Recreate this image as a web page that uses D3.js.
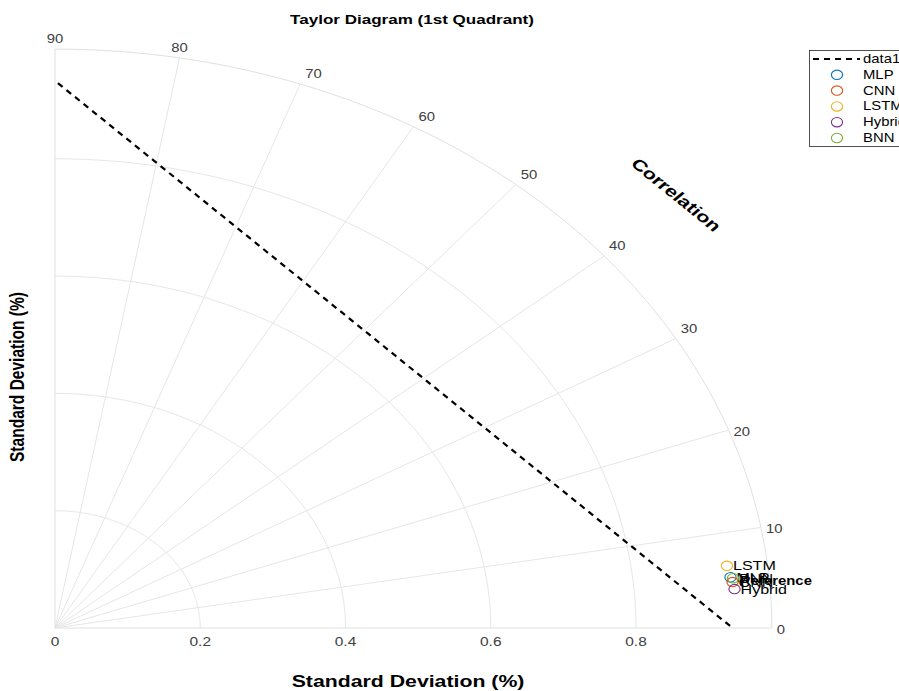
<!DOCTYPE html>
<html>
<head>
<meta charset="utf-8">
<script src="https://cdn.jsdelivr.net/npm/d3@7"></script>
<style>
  html, body { margin: 0; padding: 0; background: #fff; }
  svg { display: block; font-family: "Liberation Sans", Arial, Helvetica, sans-serif; }
</style>
</head>
<body>
<svg id="chart" width="899" height="691"></svg>
<script>
// ---- data ----
const models = ["MLP", "CNN", "LSTM", "Hybrid", "BNN"];
const stdDev = [0.9341, 0.9362, 0.9313, 0.9380, 0.9375];
const correlation = [0.9957, 0.9965, 0.9935, 0.9975, 0.9959];
const modelColors = ["#0072BD", "#D95319", "#EDB120", "#7E2F8E", "#77AC30"];
const refStd = 0.9385;
const refCorr = 0.9963;
const data1X = [0.004, 0.933];
const data1Y = [0.929, 0.0];
const stdTicks = [0, 0.2, 0.4, 0.6, 0.8];
const stdTickLabels = ["0", "0.2", "0.4", "0.6", "0.8"];
const gridRadii = [0.2, 0.4, 0.6, 0.8];
const angleTicks = [0, 10, 20, 30, 40, 50, 60, 70, 80, 90];
const rMax = 0.987;

// ---- layout ----
const SX = 1.238; // horizontal stretch of the figure
const svg = d3.select("#chart");
const x = d3.scaleLinear().domain([0, 0.8]).range([55, 636]);
const y = d3.scaleLinear().domain([0, 0.8]).range([628, 628 - 0.8 * 586.5]);
const rad = d => d * Math.PI / 180;
const px = (r, deg) => x(r * Math.cos(rad(deg)));
const py = (r, deg) => y(r * Math.sin(rad(deg)));

function stext(parent, tx, ty, str, o = {}) {
  const g = parent.append("g")
    .attr("transform", `translate(${tx},${ty}) scale(${SX},1)` + (o.rotate ? ` rotate(${o.rotate})` : ""));
  const t = g.append("text")
    .attr("x", 0).attr("y", 0)
    .attr("font-size", o.size || 12)
    .attr("font-weight", o.weight || "normal")
    .attr("fill", o.fill || "#000")
    .attr("text-anchor", o.anchor || "start")
    .attr("dominant-baseline", o.baseline || "auto")
    .text(str);
  if (o.length) t.attr("textLength", o.length).attr("lengthAdjust", "spacingAndGlyphs");
  return t;
}

const grid = svg.append("g").attr("fill", "none").attr("stroke", "#e6e6e6").attr("stroke-width", 1);

// std-dev arcs
const arcDeg = d3.range(0, 90.01, 0.5);
const arcLine = r => d3.line().x(a => px(r, a)).y(a => py(r, a))(arcDeg);
gridRadii.forEach(r => grid.append("path").attr("d", arcLine(r)));
grid.append("path").attr("d", arcLine(rMax)).attr("stroke", "#e0e0e0");

// radial lines
angleTicks.forEach(a => {
  grid.append("line")
    .attr("x1", x(0)).attr("y1", y(0))
    .attr("x2", px(rMax, a)).attr("y2", py(rMax, a))
    .attr("stroke", (a === 0 || a === 90) ? "#e0e0e0" : "#e6e6e6");
});

// angle labels
const tickColor = "#404040";
angleTicks.forEach(a => {
  const ex = px(rMax, a), ey = py(rMax, a);
  const top = a >= 80;
  const high = a >= 30;
  stext(svg, top ? ex : ex + 5, high ? ey - 6 : ey + 6, String(a), {
    size: 12, fill: tickColor, anchor: top ? "middle" : "start"
  });
});

// std-dev tick labels
stdTicks.forEach((v, i) => {
  stext(svg, x(v), 646, stdTickLabels[i], { size: 12.5, fill: tickColor, anchor: "middle" });
});

// dashed line
svg.append("path")
  .attr("d", d3.line().x(d => x(d[0])).y(d => y(d[1]))(d3.zip(data1X, data1Y)))
  .attr("fill", "none").attr("stroke", "#000").attr("stroke-width", 2.2)
  .attr("stroke-dasharray", "6,5");

// model markers and labels
const pts = models.map((m, i) => {
  const ang = Math.acos(correlation[i]) * 180 / Math.PI;
  return { name: m, color: modelColors[i], cx: px(stdDev[i], ang), cy: py(stdDev[i], ang) };
});
pts.forEach(p => {
  svg.append("ellipse").attr("cx", p.cx).attr("cy", p.cy).attr("rx", 5.6).attr("ry", 4.7)
    .attr("fill", "none").attr("stroke", p.color).attr("stroke-width", 1.1);
  stext(svg, p.cx + 6, p.cy, p.name, { size: 13, baseline: "central" });
});
const refAng = Math.acos(refCorr) * 180 / Math.PI;
stext(svg, px(refStd, refAng) + 6, py(refStd, refAng), "Reference", { size: 12, weight: "bold", baseline: "central" });

// titles
stext(svg, 412, 24, "Taylor Diagram (1st Quadrant)", { size: 13, weight: "bold", anchor: "middle", length: 197 });
stext(svg, 408, 687, "Standard Deviation (%)", { size: 16, weight: "bold", anchor: "middle", length: 188 });
stext(svg, 17, 377, "Standard Deviation (%)", { size: 16, weight: "bold", anchor: "middle", baseline: "central", rotate: -90, length: 170 });
stext(svg, 676, 195, "Correlation", { size: 15, weight: "bold", anchor: "middle", baseline: "central", rotate: 45, length: 96 });

// legend
const lg = svg.append("g");
lg.append("rect").attr("x", 809.5).attr("y", 50.5).attr("width", 100).attr("height", 96)
  .attr("fill", "#fff").attr("stroke", "#262626").attr("stroke-width", 0.8);
const rowY = i => 59 + i * 15.8;
lg.append("line").attr("x1", 813).attr("x2", 860).attr("y1", rowY(0)).attr("y2", rowY(0))
  .attr("stroke", "#000").attr("stroke-width", 2).attr("stroke-dasharray", "6,5");
stext(lg, 863, rowY(0), "data1", { size: 12, baseline: "central" });
pts.forEach((p, i) => {
  lg.append("ellipse").attr("cx", 837).attr("cy", rowY(i + 1)).attr("rx", 5.6).attr("ry", 4.7)
    .attr("fill", "none").attr("stroke", p.color).attr("stroke-width", 1.1);
  stext(lg, 863, rowY(i + 1), p.name, { size: 12, baseline: "central" });
});
</script>
</body>
</html>
